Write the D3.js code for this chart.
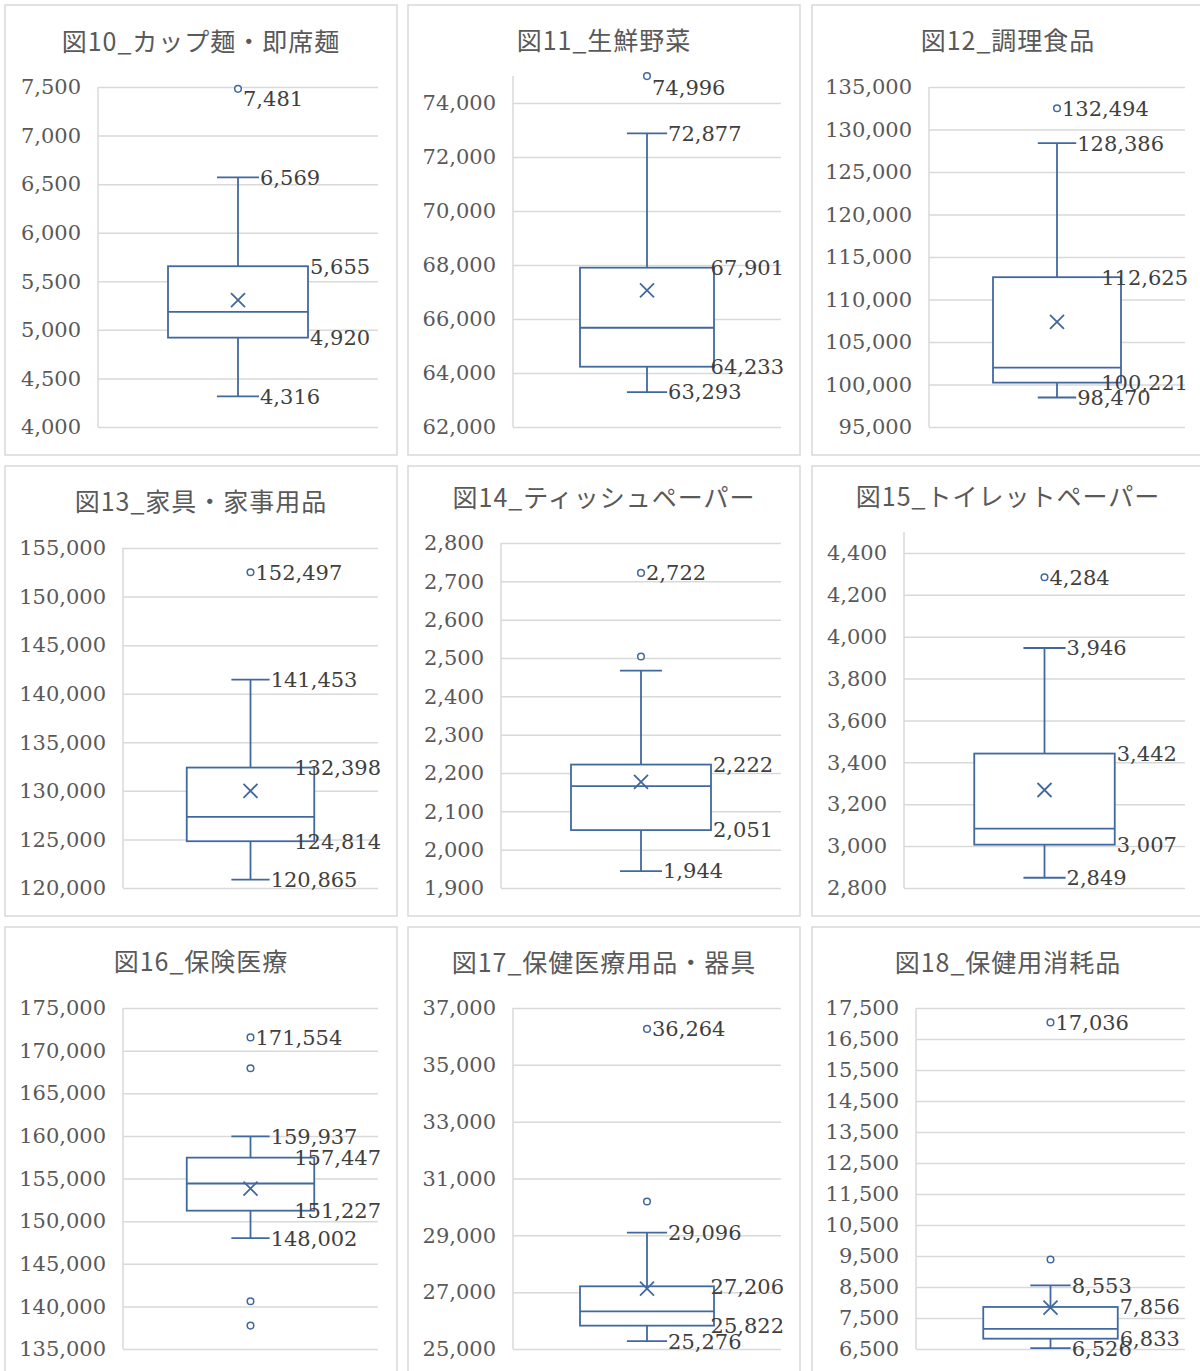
<!DOCTYPE html>
<meta charset="utf-8">
<head>
  <title>箱ひげ図 図10-図18</title>
</head>

<style>
body { margin: 0; background: #fff; }
.title { font-family: "Noto Sans CJK JP", sans-serif; font-size: 25px; letter-spacing: 1px; fill: #595959; }
.tick text, .lbl { font-family: "DejaVu Serif", serif; font-size: 21px; }
.tick text { fill: #595959; }
.lbl { fill: #404040; }
</style>

<body>
  <svg width="1200" height="1371"></svg>

  <script src="https://cdnjs.cloudflare.com/ajax/libs/d3/7.8.5/d3.min.js"></script>

  <script>
// chart data
var titles = ["図10_カップ麺・即席麺", "図11_生鮮野菜", "図12_調理食品",
              "図13_家具・家事用品", "図14_ティッシュペーパー", "図15_トイレットペーパー",
              "図16_保険医療", "図17_保健医療用品・器具", "図18_保健用消耗品"]
var whiskerLow  = [4316, 63293, 98470, 120865, 1944, 2849, 148002, 25276, 6526]
var q1          = [4920, 64233, 100221, 124814, 2051, 3007, 151227, 25822, 6833]
var median      = [5185, 65676, 101993, 127316, 2166, 3084, 154412, 26321, 7150]
var q3          = [5655, 67901, 112625, 132398, 2222, 3442, 157447, 27206, 7856]
var whiskerHigh = [6569, 72877, 128386, 141453, 2467, 3946, 159937, 29096, 8553]
var mean        = [5306, 67056, 107368, 129998, 2177, 3268, 153824, 27124, 7835]
var topOutlier  = [7481, 74996, 132494, 152497, 2722, 4284, 171554, 36264, 17036]
var otherOutliers = [[], [], [], [], [2504], [], [167941, 140600, 137745], [30190], [9388]]
var highLabelShown = [true, true, true, true, false, true, true, true, true]

// axis settings
var yMin  = [4000, 62000, 95000, 120000, 1900, 2800, 135000, 25000, 6500]
var yMax  = [7500, 75000, 135000, 155000, 2800, 4500, 175000, 37000, 17500]
var yStep = [500, 2000, 5000, 5000, 100, 200, 5000, 2000, 1000]

// layout
var colX = [5, 408, 812], rowY = [5, 466, 927]
var panelW = 392, panelH = 450
var plotTop  = [82, 71, 82, 82, 77, 66, 81, 81, 81]
var plotLeft = [93, 105, 117, 118, 93, 92, 118, 105, 104]
var plotRight = 373, plotBottom = 422
var titleY = [37, 36, 36, 36, 32, 31, 35, 36, 36]
var blue = "#41699f"
var fmt = d3.format(",")

var svg = d3.select("svg")

titles.forEach(function(t, i) {
  var g = svg.append("g")
    .attr("transform", "translate(" + colX[i % 3] + "," + rowY[Math.floor(i / 3)] + ")")

  g.append("rect")
    .attr("width", panelW).attr("height", panelH)
    .attr("fill", "#fff").attr("stroke", "#d9d9d9").attr("stroke-width", 1.5)

  g.append("text").attr("class", "title")
    .attr("x", panelW / 2).attr("y", titleY[i]).attr("dy", "0.35em")
    .attr("text-anchor", "middle").text(t)

  var y = d3.scaleLinear().domain([yMin[i], yMax[i]]).range([plotBottom, plotTop[i]])
  var x = d3.scaleBand().domain([t]).range([plotLeft[i], plotRight])
  var left = plotLeft[i]

  var ticks = d3.range(yMin[i], yMax[i] + yStep[i] / 2, yStep[i])
  var ax = g.append("g")
    .attr("transform", "translate(" + left + ",0)")
    .call(d3.axisLeft(y).tickValues(ticks).tickFormat(fmt)
      .tickSize(-(plotRight - left)).tickPadding(17))
  ax.select(".domain").remove()
  ax.selectAll(".tick line").attr("stroke", "#d9d9d9").attr("stroke-width", 1.5)

  g.append("line")
    .attr("x1", left).attr("x2", left)
    .attr("y1", y(yMax[i])).attr("y2", y(yMin[i]))
    .attr("stroke", "#d9d9d9").attr("stroke-width", 1.5)

  var cx = x(t) + x.bandwidth() / 2
  var boxW = x.bandwidth() * 0.5
  var capW = boxW * 0.3

  var marks = g.append("g").attr("stroke", blue).attr("stroke-width", 1.8).attr("fill", "none")

  // whiskers
  marks.append("line").attr("x1", cx).attr("x2", cx).attr("y1", y(q1[i])).attr("y2", y(whiskerLow[i]))
  marks.append("line").attr("x1", cx).attr("x2", cx).attr("y1", y(q3[i])).attr("y2", y(whiskerHigh[i]))
  ;[whiskerLow[i], whiskerHigh[i]].forEach(function(v) {
    marks.append("line")
      .attr("x1", cx - capW / 2).attr("x2", cx + capW / 2)
      .attr("y1", y(v)).attr("y2", y(v))
  })

  // box
  marks.append("rect")
    .attr("x", cx - boxW / 2).attr("width", boxW)
    .attr("y", y(q3[i])).attr("height", y(q1[i]) - y(q3[i]))
    .attr("fill", "#fff")
  marks.append("line")
    .attr("x1", cx - boxW / 2).attr("x2", cx + boxW / 2)
    .attr("y1", y(median[i])).attr("y2", y(median[i]))

  // mean marker
  var my = y(mean[i]), s = 7
  marks.append("path")
    .attr("d", "M" + (cx - s) + "," + (my - s) + "L" + (cx + s) + "," + (my + s) +
               "M" + (cx - s) + "," + (my + s) + "L" + (cx + s) + "," + (my - s))

  // outliers
  var allOut = [topOutlier[i]].concat(otherOutliers[i])
  marks.selectAll("circle").data(allOut).enter().append("circle")
    .attr("cx", cx).attr("cy", function(d) { return y(d) })
    .attr("r", 3.3).attr("fill", "#fff").attr("stroke-width", 1.5)

  // data labels
  function label(v, lx, ly) {
    var el = g.append("text").attr("class", "lbl")
      .attr("x", lx).attr("y", ly).attr("dy", "0.35em").text(fmt(v))
    var w = el.node().getComputedTextLength()
    if (lx + w > plotRight + 3) el.attr("x", plotRight + 3 - w)
  }
  label(topOutlier[i], cx + 5, Math.max(y(topOutlier[i]), plotTop[i] + 12))
  if (highLabelShown[i]) label(whiskerHigh[i], cx + capW / 2 + 1, y(whiskerHigh[i]))
  label(whiskerLow[i], cx + capW / 2 + 1, y(whiskerLow[i]))
  label(q3[i], cx + boxW / 2 + 2, y(q3[i]))
  label(q1[i], cx + boxW / 2 + 2, y(q1[i]))
})
  </script>
</body>
</html>
